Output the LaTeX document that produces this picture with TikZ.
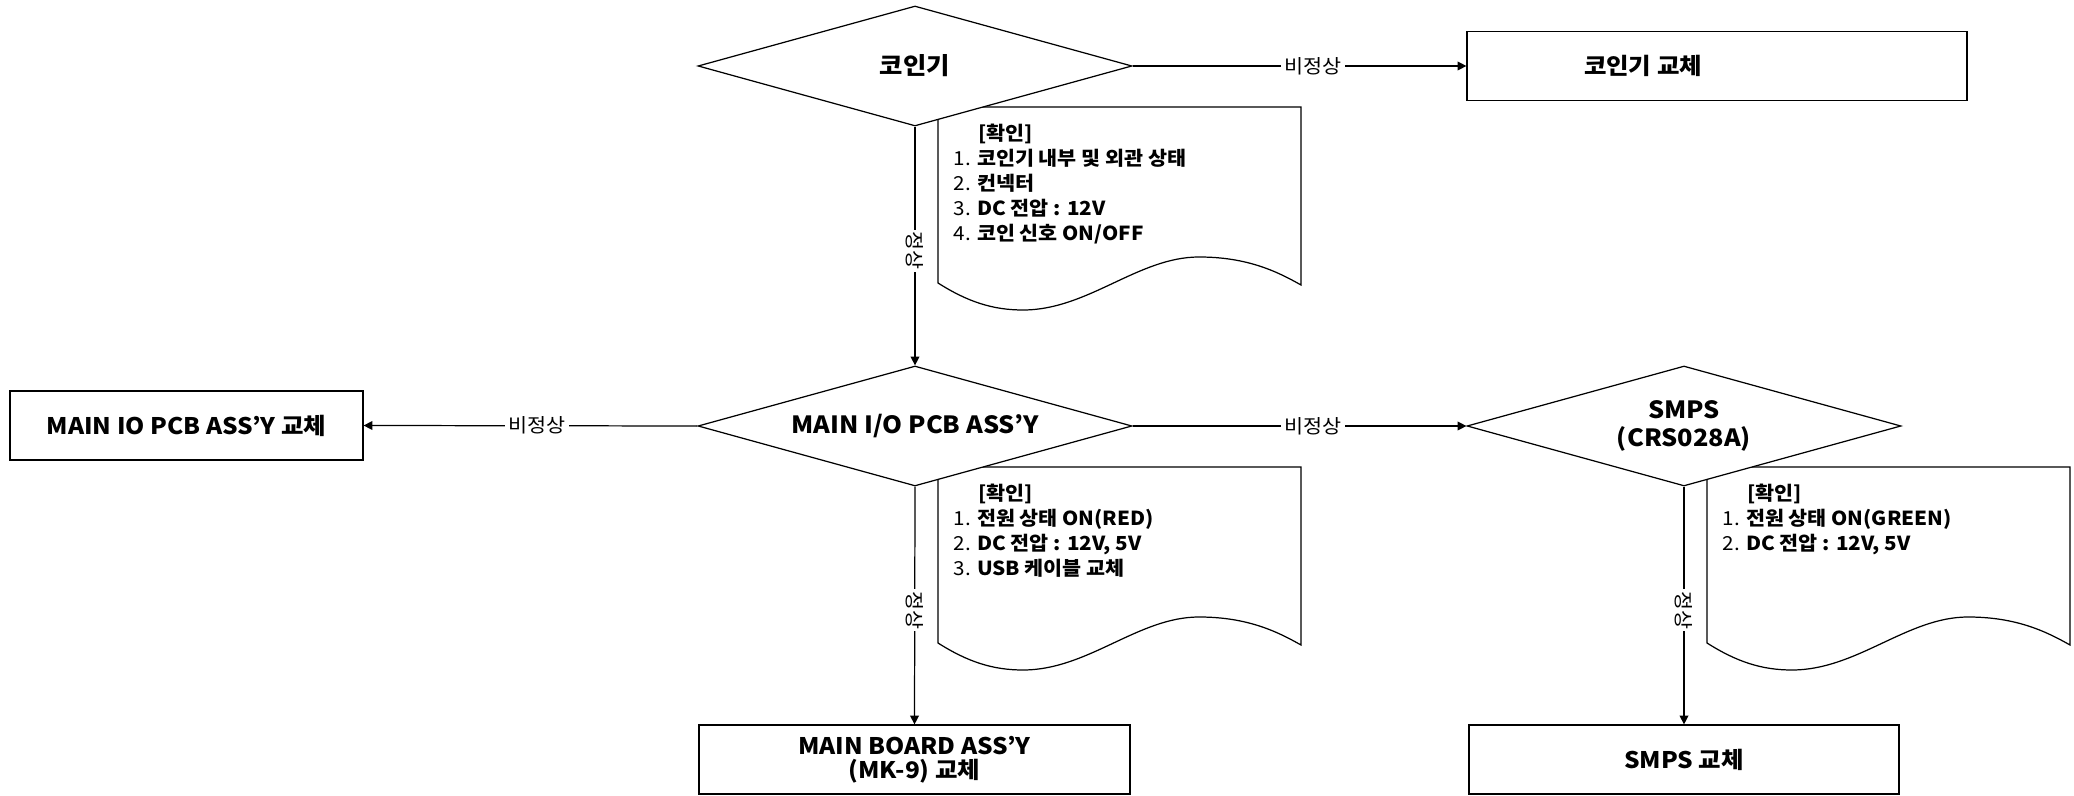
\documentclass[tikz,border=0pt]{standalone}
\usepackage{fontspec}
\setmainfont{Noto Sans CJK KR}[FakeStretch=1.07]
\usetikzlibrary{shapes.geometric, arrows.meta, positioning, calc}

\tikzset{
  decision/.style={diamond, draw, fill=white, aspect=3.6, minimum width=8.68cm,
    minimum height=2.4cm, inner sep=0pt, align=center,
    font=\bfseries\fontsize{13.5}{16}\selectfont},
  fixbox/.style={rectangle, draw, fill=white, minimum height=1.38cm, align=center,
    font=\bfseries\fontsize{13}{13.6}\selectfont},
  flowline/.style={-{Triangle[length=5pt,width=5pt]}},
  nglabel/.style={fill=white, inner sep=2pt, font=\fontsize{11}{12}\selectfont},
  oklabel/.style={nglabel, rotate=-90, inner sep=1pt},
  chktext/.style={align=left, inner sep=0pt, font=\fontsize{11}{14.2}\selectfont},
  % check list card with wavy bottom
  chknote/.pic={
    \draw[fill=white] (0,0) -- (7.26,0) -- (7.26,-3.56)
      .. controls (6.8,-3.3) and (6.2,-3.0) .. (5.22,-3.0)
      .. controls (4.0,-3.0) and (3.0,-4.06) .. (1.7,-4.06)
      .. controls (1.1,-4.06) and (0.6,-3.9) .. (0,-3.52) -- cycle;
    \node[chktext, anchor=north west] (-txt) at (0.3,-0.33) {#1};
  }
}

\begin{document}
\begin{tikzpicture}[line width=0.7pt]

    \useasboundingbox (0,0) rectangle (41.48,15.9);

    % Check cards (drawn first, the diamonds overlap their corners)
    \pic (chk1) at (18.76,13.76) {chknote={\hspace*{0.5cm}\textbf{[확인]}\\
        1. \textbf{코인기 내부 및 외관 상태}\\
        2. \textbf{컨넥터}\\
        3. \textbf{DC 전압 : 12V}\\
        4. \textbf{코인 신호 ON/OFF}}};
    \pic (chk2) at (18.76,6.56) {chknote={\hspace*{0.5cm}\textbf{[확인]}\\
        1. \textbf{전원 상태 ON(RED)}\\
        2. \textbf{DC 전압 : 12V, 5V}\\
        3. \textbf{USB 케이블 교체}}};
    \pic (chk3) at (34.14,6.56) {chknote={\hspace*{0.5cm}\textbf{[확인]}\\
        1. \textbf{전원 상태 ON(GREEN)}\\
        2. \textbf{DC 전압 : 12V, 5V}}};

    % Decisions
    \node[decision] (coin) at (18.3,14.58) {코인기};
    \node[decision] (io)   at (18.3,7.38)  {MAIN I/O PCB ASS’Y};
    \node[decision] (smps) at (33.68,7.38) {SMPS\\(CRS028A)};

    % Replacement boxes
    \node[fixbox, minimum width=10cm]   (coinfix)  at (34.34,14.58) {코인기 교체\hspace*{2.96cm}};
    \node[fixbox, minimum width=7.06cm] (iofix)    at (3.73,7.39)   {MAIN IO PCB ASS’Y 교체};
    \node[fixbox, minimum width=8.62cm] (boardfix) at (18.29,0.71)  {MAIN BOARD ASS’Y\\(MK-9) 교체};
    \node[fixbox, minimum width=8.6cm]  (smpsfix)  at (33.68,0.71)  {SMPS 교체};

    % Abnormal branches
    \draw[flowline] (coin.east) -- node[nglabel, pos=0.54] (ng1) {비정상} (coinfix.west);
    \draw[flowline] (io.west)   -- node[nglabel, pos=0.48] (ng2) {비정상} (iofix.east);
    \draw[flowline] (io.east)   -- node[nglabel, pos=0.54] (ng3) {비정상} (smps.west);

    % Normal branches
    \draw[flowline] (coin.south) -- node[oklabel, pos=0.52] (ok1) {정상} (io.north);
    \draw[flowline] (io.south)   -- node[oklabel, pos=0.52] (ok2) {정상} (boardfix.north);
    \draw[flowline] (smps.south) -- node[oklabel, pos=0.52] (ok3) {정상} (smpsfix.north);

\end{tikzpicture}
\end{document}
